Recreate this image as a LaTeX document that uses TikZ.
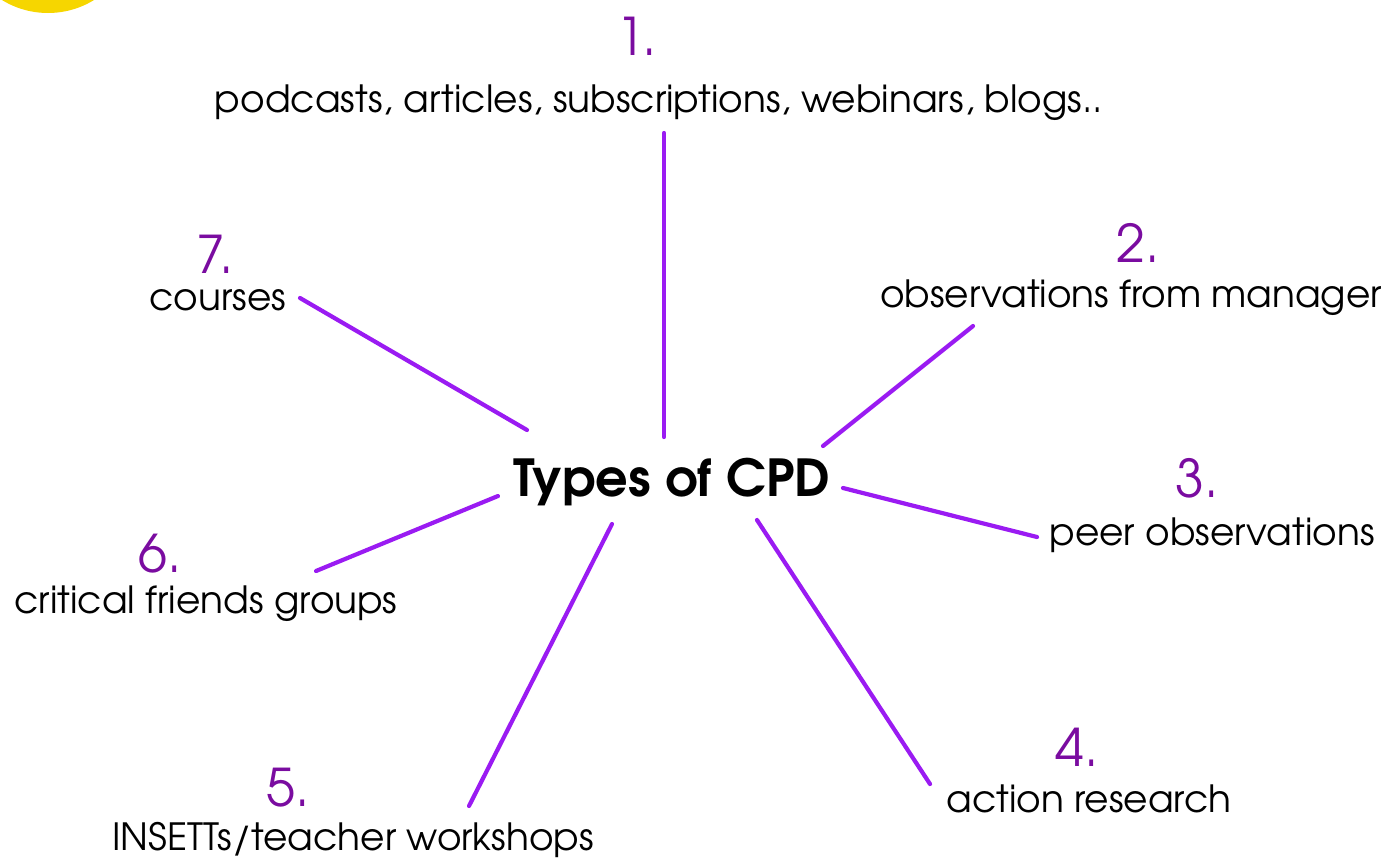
\documentclass[tikz,border=0pt]{standalone}
\usepackage{fontspec}
\setmainfont{texgyreadventor}[Extension=.otf, UprightFont=*-regular, BoldFont=*-bold]
\begin{document}
\begin{tikzpicture}[x=1pt,y=-1pt,
  num/.style={anchor=base, text=numpurple, font=\fontsize{52}{52}\selectfont, inner sep=0pt},
  lbl/.style={anchor=base, text=black, font=\fontsize{37.5}{37.5}\selectfont, inner sep=0pt},
  spoke/.style={draw=linepurple, line width=4.2pt, line cap=round}]
\definecolor{numpurple}{HTML}{7A0CA0}
\definecolor{linepurple}{HTML}{9A1BF2}
\definecolor{sunyellow}{HTML}{F6D600}
\useasboundingbox (0,0) rectangle (1398,860);
% corner disc
\begin{scope}
\clip (0,0) rectangle (1398,860);
\fill[sunyellow] (48,-75) circle (88);
\end{scope}
% centre title
\node[anchor=base, inner sep=0pt, font=\fontsize{51}{51}\selectfont\bfseries] (cpd) at (672,496) {Types of CPD};
% numbers and labels
\node[num] (n1) at (637,55) {1.};
\node[lbl] (l1) at (659,112) {podcasts, articles, subscriptions, webinars, blogs..};
\node[num] (n2) at (1138,262) {2.};
\node[lbl] (l2) at (1131,307) {observations from manager};
\node[num] (n3) at (1197,497) {3.};
\node[lbl] (l3) at (1212,545) {peer observations};
\node[num] (n4) at (1077,766) {4.};
\node[lbl] (l4) at (1089,812) {action research};
\node[num] (n5) at (288,806) {5.};
\node[lbl] (l5) at (353,850) {INSETTs/teacher workshops};
\node[num] (n6) at (160,572) {6.};
\node[lbl] (l6) at (206,613) {critical friends groups};
\node[num] (n7) at (215,273) {7.};
\node[lbl] (l7) at (218,310) {courses};
% spoke ends
\coordinate (a1) at (664,133); \coordinate (b1) at (664,437);
\coordinate (a2) at (973,326); \coordinate (b2) at (823,446);
\coordinate (a3) at (1037,537); \coordinate (b3) at (843,488);
\coordinate (a4) at (930,784); \coordinate (b4) at (757,520);
\coordinate (a5) at (469,806); \coordinate (b5) at (612,524);
\coordinate (a6) at (316,571); \coordinate (b6) at (498,496);
\coordinate (a7) at (300,298); \coordinate (b7) at (527,430);
\foreach \i in {1,...,7} \draw[spoke] (a\i) -- (b\i);
\end{tikzpicture}
\end{document}
